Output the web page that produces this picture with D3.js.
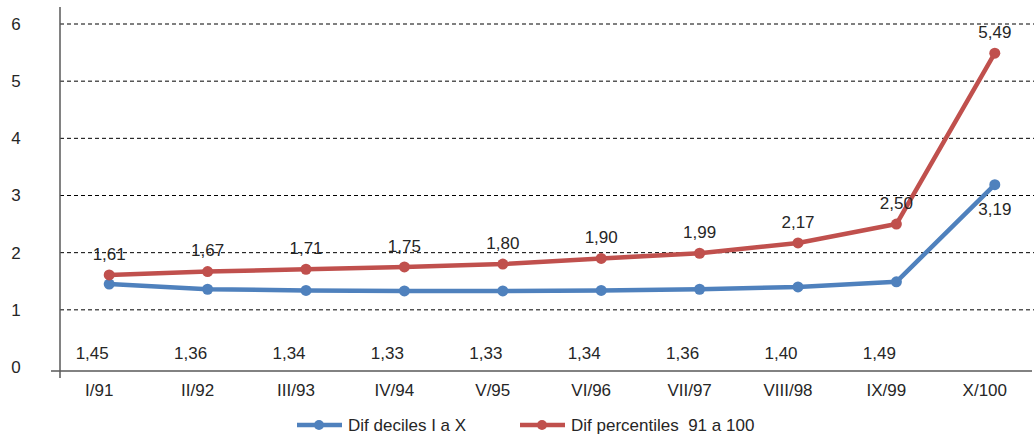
<!DOCTYPE html>
<html>
<head>
<meta charset="utf-8">
<script src="https://cdn.jsdelivr.net/npm/d3@7"></script>
<style>
  body { margin: 0; background: #fff; }
  text { font-family: "Liberation Sans", Arial, sans-serif; fill: #262626; font-size: 17px; }
</style>
</head>
<body>
<svg width="1034" height="439"></svg>
<script>
// chart data
var categories = ['I/91', 'II/92', 'III/93', 'IV/94', 'V/95', 'VI/96', 'VII/97', 'VIII/98', 'IX/99', 'X/100']
var deciles = [1.45, 1.36, 1.34, 1.33, 1.33, 1.34, 1.36, 1.40, 1.49, 3.19]
var percentiles = [1.61, 1.67, 1.71, 1.75, 1.80, 1.90, 1.99, 2.17, 2.50, 5.49]
var yTicks = [0, 1, 2, 3, 4, 5, 6]
var seriesNames = ['Dif deciles I a X', 'Dif percentiles  91 a 100']

var svg = d3.select('svg'),
  margin = {top: 24, right: -10, bottom: 72, left: 60},
  width = +svg.attr('width') - margin.left - margin.right,
  height = +svg.attr('height') - margin.top - margin.bottom

var blue = '#4f81bd', red = '#c0504d'
var fmt = function (v) { return d3.format('.2f')(v).replace('.', ',') }

var x = d3.scalePoint().domain(categories).range([0, width]).padding(0.5)
var y = d3.scaleLinear().domain([0, 6]).range([height, 0])

var g = svg.append('g')
    .attr('transform', 'translate(' + margin.left + ',' + margin.top + ')')

// dashed gridlines
g.selectAll('.grid')
    .data(yTicks.filter(function (d) { return d > 0 }))
  .enter().append('line')
    .attr('x1', 0)
    .attr('x2', +svg.attr('width') - margin.left)
    .attr('y1', function (d) { return y(d) })
    .attr('y2', function (d) { return y(d) })
    .attr('stroke', '#000')
    .attr('stroke-width', 1)
    .attr('stroke-dasharray', '4,3')

// y axis
g.append('line')
    .attr('x1', 0).attr('x2', 0)
    .attr('y1', y(6) - 17).attr('y2', y(0) + 11)
    .attr('stroke', '#595959').attr('stroke-width', 1.5)

g.selectAll('.ylab')
    .data(yTicks)
  .enter().append('text')
    .attr('x', -44)
    .attr('y', function (d) { return y(d) })
    .attr('dy', '0.35em')
    .attr('text-anchor', 'middle')
    .text(function (d) { return d })

// x axis (sits a little under zero, as in the original)
g.append('line')
    .attr('x1', -9).attr('x2', +svg.attr('width') - margin.left - 2)
    .attr('y1', y(0) + 4).attr('y2', y(0) + 4)
    .attr('stroke', '#595959').attr('stroke-width', 1.5)

g.selectAll('.xlab')
    .data(categories)
  .enter().append('text')
    .attr('x', function (d) { return x(d) - 10 })
    .attr('y', y(0) + 23)
    .attr('dy', '0.35em')
    .attr('text-anchor', 'middle')
    .text(function (d) { return d })

var line = d3.line()
    .x(function (d, i) { return x(categories[i]) })
    .y(function (d) { return y(d) })

function drawSeries (values, color) {
  g.append('path')
      .datum(values)
      .attr('fill', 'none')
      .attr('stroke', color)
      .attr('stroke-width', 4.5)
      .attr('stroke-linejoin', 'round')
      .attr('d', line)

  g.selectAll(null)
      .data(values)
    .enter().append('circle')
      .attr('cx', function (d, i) { return x(categories[i]) })
      .attr('cy', function (d) { return y(d) })
      .attr('r', 5.5)
      .attr('fill', color)
}

drawSeries(deciles, blue)
drawSeries(percentiles, red)

// data labels
g.selectAll('.plab')
    .data(percentiles)
  .enter().append('text')
    .attr('x', function (d, i) { return x(categories[i]) })
    .attr('y', function (d) { return y(d) - 21 })
    .attr('dy', '0.35em')
    .attr('text-anchor', 'middle')
    .text(fmt)

g.selectAll('.dlab')
    .data(deciles)
  .enter().append('text')
    .attr('x', function (d, i) { return i === deciles.length - 1 ? x(categories[i]) : x(categories[i]) - 17 })
    .attr('y', function (d, i) { return i === deciles.length - 1 ? y(d) + 24 : y(0.25) })
    .attr('dy', '0.35em')
    .attr('text-anchor', 'middle')
    .text(fmt)

// legend
var legend = svg.append('g').attr('transform', 'translate(297,425)')
var legendItems = legend.selectAll('g')
    .data([{name: seriesNames[0], color: blue}, {name: seriesNames[1], color: red}])
  .enter().append('g')
    .attr('transform', function (d, i) { return 'translate(' + (i * 223) + ',0)' })

legendItems.append('line')
    .attr('x1', 0).attr('x2', 45)
    .attr('stroke', function (d) { return d.color })
    .attr('stroke-width', 4.5)
legendItems.append('circle')
    .attr('cx', 22).attr('r', 5)
    .attr('fill', function (d) { return d.color })
legendItems.append('text')
    .attr('x', 51)
    .attr('dy', '0.35em')
    .style('white-space', 'pre')
    .text(function (d) { return d.name })
</script>
</body>
</html>
